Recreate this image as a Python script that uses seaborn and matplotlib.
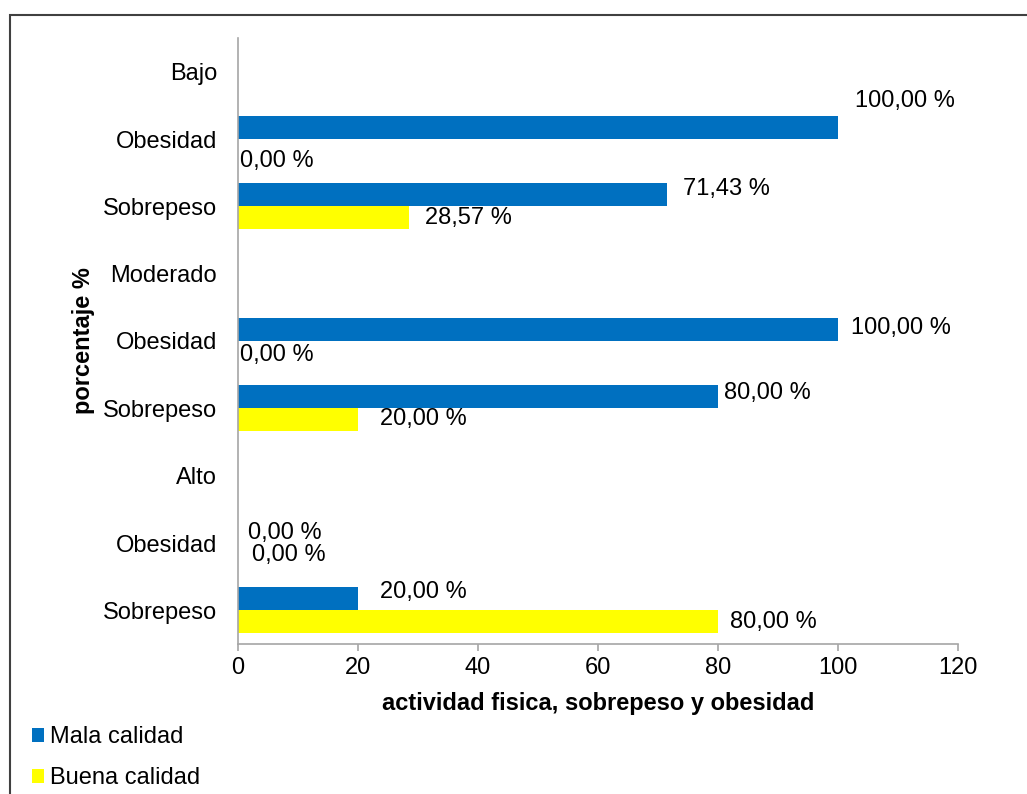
import matplotlib
matplotlib.use("Agg")
import matplotlib.pyplot as plt
from matplotlib.patches import Patch, Rectangle
import numpy as np
import pandas as pd
import seaborn as sns

# Filas del gráfico, de arriba hacia abajo.
FILAS = ["Bajo", "Obesidad", "Sobrepeso", "Moderado", "Obesidad", "Sobrepeso",
         "Alto", "Obesidad", "Sobrepeso"]
MALA = [np.nan, 100.0, 71.43, np.nan, 100.0, 80.0, np.nan, 0.0, 20.0]
BUENA = [np.nan, 0.0, 28.57, np.nan, 0.0, 20.0, np.nan, 0.0, 80.0]
SERIES = ["Mala calidad", "Buena calidad"]
COLORES = {"Mala calidad": "#0070C0", "Buena calidad": "#FFFF00"}

# Desplazamiento de las etiquetas (px) respecto al extremo de cada barra.
DESP_MALA = [(17, -27), (16, -6), (13, -2), (6, -4), (10, 1), (22, -7)]
DESP_BUENA = [(2, 11), (16, 0), (2, 3), (22, -1), (14, 1), (12, 0)]

sns.set_theme(style="white")
plt.rcParams["font.family"] = ["Liberation Sans", "DejaVu Sans"]
plt.rcParams["text.color"] = "black"
plt.rcParams["axes.labelcolor"] = "black"
GRIS = "#A6A6A6"

ids = [f"f{i}" for i in range(len(FILAS))]
df = pd.DataFrame({
    "fila": ids * 2,
    "serie": [SERIES[0]] * len(ids) + [SERIES[1]] * len(ids),
    "valor": MALA + BUENA,
})

fig = plt.figure(figsize=(10.27, 7.94), dpi=100)
ax = fig.add_axes([238 / 1027, 1 - 644 / 794, 720 / 1027, 606 / 794])

sns.barplot(data=df, y="fila", x="valor", hue="serie", order=ids,
            hue_order=SERIES, palette=COLORES, orient="h", width=0.68,
            ax=ax, legend=False, errorbar=None, saturation=1,
            edgecolor="none")

for cont, desp in zip(ax.containers, [DESP_MALA, DESP_BUENA]):
    for p, (dx, dy) in zip(cont.patches, desp):
        v = p.get_width()
        yc = p.get_y() + p.get_height() / 2
        ax.annotate(f"{v:.2f} %".replace(".", ","), (v, yc),
                    xytext=(dx, -dy), textcoords="offset pixels",
                    ha="left", va="center", fontsize=17, color="black",
                    annotation_clip=False)

ax.set_xlim(0, 120)
ax.set_xticks(range(0, 121, 20))
ax.set_yticks(range(len(FILAS)))
ax.set_yticklabels(FILAS)
ax.tick_params(axis="y", length=0, pad=15, labelsize=17, colors="black")
ax.tick_params(axis="x", length=5, width=1.2, color=GRIS, direction="out",
               pad=4, labelsize=17, labelcolor="black", bottom=True)
for lado in ["top", "right"]:
    ax.spines[lado].set_visible(False)
for lado in ["left", "bottom"]:
    ax.spines[lado].set_color(GRIS)
    ax.spines[lado].set_linewidth(1.2)

ax.set_xlabel("actividad fisica, sobrepeso y obesidad", fontsize=17,
              fontweight="bold", labelpad=10, color="black")
ax.set_ylabel("porcentaje %", fontsize=17, fontweight="bold", color="black")
ax.yaxis.set_label_coords(-0.198, 0.5)

handles = [Patch(facecolor=COLORES[s], edgecolor="none") for s in SERIES]
leg = fig.legend(handles, SERIES, loc="lower left",
                 bbox_to_anchor=(18 / 1027, -0.012),
                 frameon=False, fontsize=17, handlelength=0.52,
                 handleheight=0.52, handletextpad=0.25, labelspacing=0.82,
                 borderaxespad=0.2)
for t in leg.get_texts():
    t.set_color("black")

fig.patches.append(Rectangle((10 / 1027, -0.2), 2, 1 - 15 / 794 + 0.2,
                             transform=fig.transFigure, fill=False,
                             edgecolor="#404040", lw=1.5))

fig.savefig("out.png", dpi=100)
